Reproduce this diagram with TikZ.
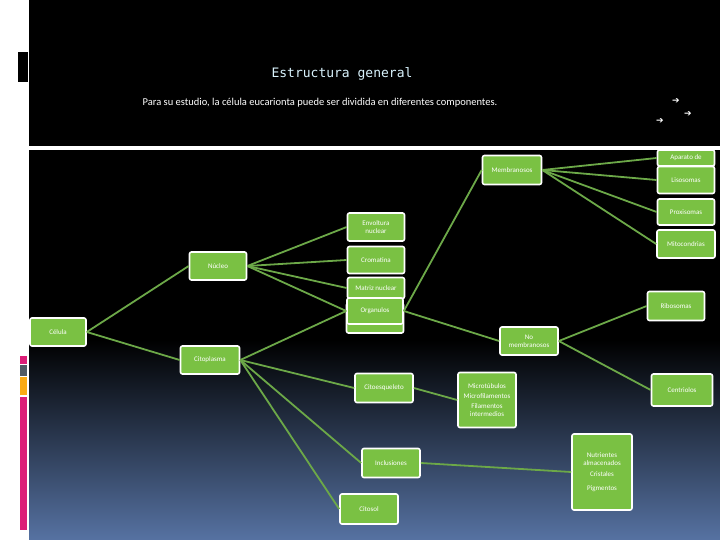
\documentclass[tikz,border=0pt]{standalone}
\usepackage{fontspec}
\setmainfont{Carlito}
\newfontfamily\titlefont{DejaVu Sans Mono}
\newfontfamily\arrowfont{DejaVu Sans}
\usepackage{xcolor}
\definecolor{leafgreen}{RGB}{122,193,67}
\definecolor{linegreen}{RGB}{108,168,72}
\definecolor{slateblue}{RGB}{86,114,162}
\definecolor{decopink}{RGB}{220,30,120}
\definecolor{decogray}{RGB}{80,90,100}
\definecolor{decoorange}{RGB}{250,170,20}
\tikzset{
    box/.style={draw=white, line width=1.6pt, fill=leafgreen, rounded corners=2pt,
        text=white, font=\fontsize{7}{8}\selectfont, align=center, inner sep=1pt},
    link/.style={linegreen, line width=1.8pt}
}
\begin{document}
\begin{tikzpicture}[x=1pt, y=-1pt]
        % Background
        \useasboundingbox (0,0) rectangle (720,540);
        \fill[white] (0,0) rectangle (720,540);
        \fill[black] (29,0) rectangle (720,146);
        \fill[black] (29,150) rectangle (720,340);
        \shade[top color=black, bottom color=slateblue] (29,340) rectangle (720,540);
        \fill[black] (18,52) rectangle (28,82);
        % Side bars
        \fill[decopink] (20,356) rectangle (27,364);
        \fill[decogray] (20,365) rectangle (27,376);
        \fill[decoorange] (20,377) rectangle (27,395);
        \fill[decopink] (20,397) rectangle (27,530);

        % Title
        \node[text=white!85!cyan, font=\titlefont\fontsize{13}{15}\selectfont] (title) at (342,74) {Estructura general};
        \node[text=white, font=\fontsize{10.5}{12}\selectfont] (sub) at (320,103) {Para su estudio, la célula eucarionta puede ser dividida en diferentes componentes.};
        \node[text=white, font=\arrowfont\fontsize{9}{9}\selectfont] (arra) at (676,101) {➔};
        \node[text=white, font=\arrowfont\fontsize{9}{9}\selectfont] (arrb) at (688,114) {➔};
        \node[text=white, font=\arrowfont\fontsize{9}{9}\selectfont] (arrc) at (660,121) {➔};

        % Boxes
        \node[box, minimum width=56pt, minimum height=28pt] (celula) at (58,332) {Célula};
        \node[box, minimum width=57pt, minimum height=28pt] (nucleo) at (218,266) {Núcleo};
        \node[box, minimum width=59pt, minimum height=28pt] (cito) at (210,360) {Citoplasma};
        \node[box, minimum width=57pt, minimum height=28pt] (envol) at (376,227) {Envoltura\\nuclear};
        \node[box, minimum width=57pt, minimum height=27pt] (cromat) at (376,260) {Cromatina};
        \node[box, minimum width=57pt, minimum height=30pt] (extra) at (375,318) {};
        \node[box, minimum width=57pt, minimum height=21pt] (matriz) at (376,288) {Matriz nuclear};
        \node[box, minimum width=56pt, minimum height=26pt] (organ) at (375,311) {Organulos};
        \node[box, minimum width=59pt, minimum height=29pt] (membr) at (512,170) {Membranosos};
        \node[box, minimum width=57pt, minimum height=27pt] (lisos) at (686,180) {Lisosomas};
        \node[box, minimum width=57pt, minimum height=16pt] (aparato) at (686,158) {Aparato de};
        \node[box, minimum width=57pt, minimum height=26pt] (proxis) at (686,212) {Proxisomas};
        \node[box, minimum width=58pt, minimum height=28pt] (mitoc) at (686,244) {Mitocondrias};
        \node[box, minimum width=57pt, minimum height=29pt] (ribos) at (676,306) {Ribosomas};
        \node[box, minimum width=58pt, minimum height=28pt] (nomembr) at (529,341) {No\\membranosos};
        \node[box, minimum width=61pt, minimum height=32pt] (centri) at (682,390) {Centriolos};
        \node[box, minimum width=58pt, minimum height=29pt] (citoesq) at (384,388) {Citoesqueleto};
        \node[box, minimum width=58pt, minimum height=55pt] (microt) at (487,400)
            {Microtúbulos\\[2pt]Microfilamentos\\[2pt]Filamentos\\intermedios};
        \node[box, minimum width=58pt, minimum height=29pt] (inclus) at (391,463) {Inclusiones};
        \node[box, minimum width=60pt, minimum height=76pt] (nutri) at (602,472)
            {Nutrientes\\almacenados\\[3pt]Cristales\\[6pt]Pigmentos};
        \node[box, minimum width=58pt, minimum height=30pt] (citosol) at (369,509) {Citosol};

        % Links
        \begin{scope}[on background layer/.style={}]
        \foreach \a/\b in {celula/nucleo, celula/cito, cito/citoesq, cito/inclus, cito/citosol,
                nomembr/ribos, nomembr/centri, citoesq/microt, inclus/nutri,
                membr/aparato, membr/lisos, membr/proxis, membr/mitoc} {
            \draw[link] (\a.east) -- (\b.west);
        }
        \foreach \b in {envol, cromat, matriz, organ} {
            \draw[link] (nucleo.east) -- (\b.west);
        }
        \draw[link] (cito.east) -- (organ.west);
        \draw[link] (organ.east) -- (membr.west);
        \draw[link] (organ.east) -- (nomembr.west);
        \end{scope}
    \end{tikzpicture}
\end{document}
